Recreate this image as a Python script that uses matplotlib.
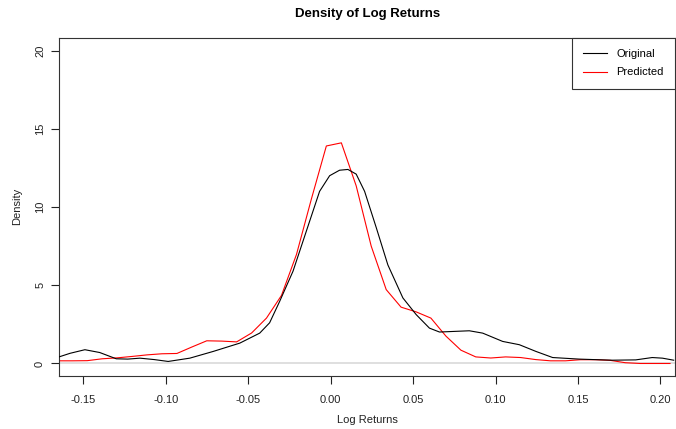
import matplotlib
matplotlib.use("Agg")
import matplotlib.pyplot as plt

plt.rcParams['font.family'] = ['Liberation Sans', 'DejaVu Sans']

# Original (black) density curve
orig_x = [-0.1647, -0.158, -0.149, -0.140, -0.130, -0.123, -0.1156, -0.107, -0.0985,
          -0.0854, -0.0712, -0.0551, -0.043, -0.037, -0.0309, -0.0228, -0.0127, -0.0067,
          -0.0006, 0.0054, 0.0105, 0.0155, 0.0206, 0.0277, 0.0347, 0.0438, 0.0519, 0.0599, 0.066,
          0.075, 0.0841, 0.0922, 0.1043, 0.1144, 0.1245, 0.1346, 0.1507, 0.1709, 0.185,
          0.195, 0.2012, 0.208]
orig_y = [0.42, 0.65, 0.88, 0.70, 0.30, 0.28, 0.34, 0.25, 0.13,
          0.34, 0.77, 1.30, 1.94, 2.6, 3.97, 5.9, 9.1, 11.0,
          12.0, 12.35, 12.4, 12.1, 11.0, 8.67, 6.3, 4.19, 3.12, 2.26, 2.01,
          2.05, 2.09, 1.94, 1.41, 1.20, 0.77, 0.38, 0.28, 0.21, 0.23,
          0.38, 0.34, 0.21]

# Predicted (red) density curve
pred_x = [-0.1657, -0.1566, -0.1476, -0.1385, -0.1294, -0.1204, -0.1113, -0.1023, -0.0932,
          -0.0842, -0.0751, -0.066, -0.057, -0.0479, -0.0389, -0.0298, -0.0207, -0.0117,
          -0.0026, 0.0065, 0.0155, 0.0246, 0.0337, 0.0427, 0.0518, 0.0608, 0.0699, 0.079,
          0.088, 0.0971, 0.1061, 0.1152, 0.1243, 0.1333, 0.1424, 0.1514, 0.1605, 0.1695,
          0.1786, 0.1877, 0.1967, 0.2058]
pred_y = [0.17, 0.17, 0.18, 0.30, 0.36, 0.45, 0.55, 0.62, 0.64,
          1.05, 1.45, 1.43, 1.38, 1.95, 2.9, 4.35, 6.97, 10.5,
          13.9, 14.1, 11.35, 7.5, 4.72, 3.6, 3.3, 2.9, 1.75, 0.85,
          0.42, 0.35, 0.42, 0.38, 0.25, 0.17, 0.17, 0.24, 0.24, 0.20,
          0.05, 0.0, 0.0, 0.0]

x_ticks = [-0.15, -0.10, -0.05, 0.00, 0.05, 0.10, 0.15, 0.20]
x_labels = ["-0.15", "-0.10", "-0.05", "0.00", "0.05", "0.10", "0.15", "0.20"]
y_ticks = [0, 5, 10, 15, 20]

fig = plt.figure(figsize=(6.76, 4.29), dpi=100)
ax = fig.add_axes([59/676, 1-376/429, 616/676, 338/429])

ax.axhline(0, color='#d9d9d9', lw=1.2, zorder=1)
ax.plot(orig_x, orig_y, color='black', lw=0.8, label='Original', zorder=3)
ax.plot(pred_x, pred_y, color='#ff0000', lw=0.8, label='Predicted', zorder=2)

ax.set_xlim(-0.1647, 0.2088)
ax.set_ylim(-0.8, 20.8)
ax.set_xticks(x_ticks)
ax.set_xticklabels(x_labels)
ax.set_yticks(y_ticks)
ax.set_yticklabels([str(v) for v in y_ticks], rotation=90, va='center')
ax.tick_params(axis='both', direction='out', length=6, width=0.8, labelsize=8, colors='#222222')
ax.tick_params(axis='x', pad=8)
ax.tick_params(axis='y', pad=4)
for s in ax.spines.values():
    s.set_linewidth(0.8)
    s.set_color('#333333')

fig.text(367/676, 1-420/429, 'Log Returns', ha='center', va='center', fontsize=8, color='#222222')
fig.text(17/676, 1-206/429, 'Density', ha='center', va='center', rotation=90, fontsize=8, color='#222222')
fig.text((59+676)/2/676, 1-14/429, 'Density of Log Returns', ha='center', va='center',
         fontsize=9.5, fontweight='bold')

leg = ax.legend(loc='upper right', fontsize=8, frameon=True, fancybox=False,
                edgecolor='#333333', framealpha=1, borderaxespad=0,
                handlelength=2.1, borderpad=1.0, labelspacing=0.75, handletextpad=0.9)
leg.get_frame().set_linewidth(0.8)

fig.savefig('out.png', dpi=100)
